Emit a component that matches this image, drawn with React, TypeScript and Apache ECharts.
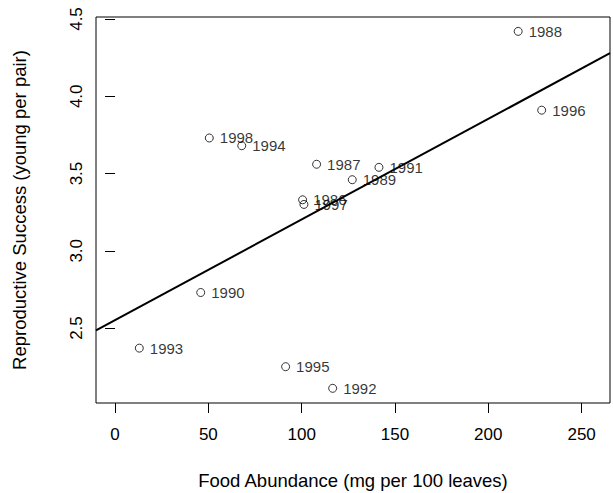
import React, { useEffect, useRef } from "react";
import * as echarts from "echarts";

const years = ["1986", "1987", "1988", "1989", "1990", "1991", "1992", "1993", "1994", "1995", "1996", "1997", "1998"];
const foodAbundance = [100.5, 108.0, 216.0, 127.1, 45.9, 141.4, 116.6, 13.0, 67.9, 91.4, 228.6, 101.2, 50.5];
const reproSuccess = [3.33, 3.56, 4.42, 3.46, 2.73, 3.54, 2.11, 2.37, 3.68, 2.25, 3.91, 3.30, 3.73];
const xTicks = [0, 50, 100, 150, 200, 250];
const yTicks = [2.5, 3.0, 3.5, 4.0, 4.5];
const fitIntercept = 2.551;
const fitSlope = 0.006514;
const xLimits = [-10.2, 265.2];
const yLimits = [2.015, 4.513];

const FONT = "'Liberation Sans', Arial, Helvetica, sans-serif";

export default function App() {
  const ref = useRef<HTMLDivElement>(null);
  useEffect(() => {
    if (!ref.current) return;
    const chart = echarts.init(ref.current, null, { renderer: "svg" });
    const points = years.map((y, i) => [foodAbundance[i], reproSuccess[i], y]);
    const fitLine = xLimits.map((x) => [x, fitIntercept + fitSlope * x]);
    chart.setOption({
      animation: false,
      backgroundColor: "#fff",
      grid: {
        left: 96,
        right: 3,
        top: 17,
        bottom: 90,
        show: true,
        borderColor: "#000",
        borderWidth: 1,
        containLabel: false,
        outerBoundsMode: "none",
      },
      xAxis: {
        type: "value",
        min: xLimits[0],
        max: xLimits[1],
        splitLine: { show: false },
        axisLine: { show: false },
        axisTick: { show: true, inside: false, length: 10, lineStyle: { color: "#000", width: 1 }, customValues: xTicks },
        axisLabel: { customValues: xTicks, color: "#000", fontSize: 17, fontFamily: FONT, margin: 23 },
        name: "Food Abundance (mg per 100 leaves)",
        nameLocation: "middle",
        nameGap: 68,
        nameTextStyle: { color: "#000", fontSize: 18.5, fontFamily: FONT },
      },
      yAxis: {
        type: "value",
        min: yLimits[0],
        max: yLimits[1],
        splitLine: { show: false },
        axisLine: { show: false },
        axisTick: { show: true, inside: false, length: 10, lineStyle: { color: "#000", width: 1 }, customValues: yTicks },
        axisLabel: {
          customValues: yTicks,
          rotate: 90,
          color: "#000",
          fontSize: 17,
          fontFamily: FONT,
          margin: 11,
          formatter: (v: number) => v.toFixed(1),
        },
        name: "Reproductive Success (young per pair)",
        nameLocation: "middle",
        nameGap: 67,
        nameTextStyle: { color: "#000", fontSize: 18.5, fontFamily: FONT },
      },
      series: [
        {
          type: "line",
          data: fitLine,
          symbol: "none",
          lineStyle: { color: "#000", width: 2 },
          silent: true,
          z: 2,
        },
        {
          type: "scatter",
          data: points,
          symbol: "circle",
          symbolSize: 8,
          itemStyle: { color: "rgba(0,0,0,0)", borderColor: "#000", borderWidth: 1 },
          label: {
            show: true,
            position: "right",
            distance: 6,
            formatter: (p: any) => p.data[2],
            color: "#000",
            fontSize: 15,
            fontFamily: FONT,
          },
          labelLayout: { hideOverlap: false },
          z: 3,
        },
      ],
    });
    return () => chart.dispose();
  }, []);
  return <div ref={ref} style={{ width: 613, height: 493, position: "absolute", left: 0, top: 0 }} />;
}
